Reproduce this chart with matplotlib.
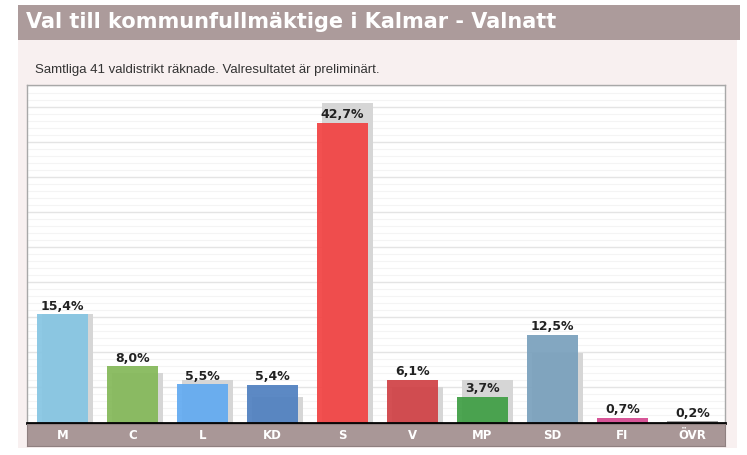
import matplotlib
matplotlib.use("Agg")
import matplotlib.pyplot as plt
from matplotlib.patches import Rectangle
from matplotlib.ticker import MultipleLocator

# ---- data ----
parties = ['M', 'C', 'L', 'KD', 'S', 'V', 'MP', 'SD', 'FI', 'ÖVR']
result = [15.4, 8.0, 5.5, 5.4, 42.7, 6.1, 3.7, 12.5, 0.7, 0.2]
previous = [15.5, 7.0, 6.0, 3.6, 45.5, 5.1, 6.0, 9.9, 0.0, 0.0]
labels = ['15,4%', '8,0%', '5,5%', '5,4%', '42,7%', '6,1%', '3,7%', '12,5%', '0,7%', '0,2%']
colors = ['#86c5e2', '#84b859', '#62aaf0', '#5080c0', '#f24343',
          '#d04246', '#3f9e45', '#7aa1bd', '#d4488f', '#9a9a9a']
title = 'Val till kommunfullmäktige i Kalmar - Valnatt'
subtitle = 'Samtliga 41 valdistrikt räknade. Valresultatet är preliminärt.'

W, H = 747, 455


def rect(x0, y0, x1, y1):
    return [x0 / W, 1 - y1 / H, (x1 - x0) / W, (y1 - y0) / H]


fig = plt.figure(figsize=(W / 100, H / 100), dpi=100)
fig.patch.set_facecolor('white')

# pink panel background
r = rect(18, 40, 737, 448)
fig.patches.append(Rectangle((r[0], r[1]), r[2], r[3], transform=fig.transFigure,
                             facecolor='#f8f0f0', edgecolor='none', zorder=-10))
# title bar
r = rect(18, 5, 740, 40)
fig.patches.append(Rectangle((r[0], r[1]), r[2], r[3], transform=fig.transFigure,
                             facecolor='#ac9b9b', edgecolor='none', zorder=-10))
fig.text(26 / W, 1 - 22 / H, title, color='white', fontsize=15, fontweight='bold',
         va='center', ha='left', family='DejaVu Sans')
fig.text(35 / W, 1 - 70 / H, subtitle, color='#333333', fontsize=9.5,
         va='center', ha='left', family='Liberation Sans')

# main axes
x = list(range(len(parties)))
xlim = (-(62.5 - 27) / 70, 9 + (725 - 692.5) / 70)
ax = fig.add_axes(rect(27, 85, 725, 422.5))
ax.set_facecolor('white')
ax.set_xlim(*xlim)
ax.set_ylim(0, (422.5 - 85) / 7.02)
ax.yaxis.set_major_locator(MultipleLocator(5))
ax.yaxis.set_minor_locator(MultipleLocator(1))
ax.grid(axis='y', which='major', color='#e4e4e4', lw=1)
ax.grid(axis='y', which='minor', color='#f4f4f4', lw=0.8)
ax.set_axisbelow(True)
ax.tick_params(left=False, bottom=False, which='both', labelleft=False, labelbottom=False)

w = 0.73
ax.bar([i + 0.075 for i in x], previous, width=w, color='#d6d6d6', zorder=2)
bars = ax.bar(x, result, width=w, color=colors, alpha=0.93, zorder=3)
for b, lab in zip(bars, labels):
    ax.annotate(lab, (b.get_x() + b.get_width() / 2, b.get_height()),
                xytext=(0, 1), textcoords='offset points', ha='center', va='bottom',
                fontsize=9, fontweight='bold', color='#222222', zorder=5)

for s in ['left', 'top', 'right']:
    ax.spines[s].set_color('#a8a8a8')
    ax.spines[s].set_linewidth(1)
ax.spines['bottom'].set_color('black')
ax.spines['bottom'].set_linewidth(2)
ax.spines['bottom'].set_zorder(6)

# category band
bx = fig.add_axes(rect(27, 423.5, 725, 446))
bx.set_facecolor('#a99797')
bx.set_xlim(*xlim)
bx.set_ylim(0, 1)
bx.set_yticks([])
bx.set_xticks([])
for s in bx.spines.values():
    s.set_color('#8f8080')
    s.set_linewidth(0.8)
for i, p in zip(x, parties):
    bx.text(i, 0.45, p, ha='center', va='center', color='white', fontsize=8.5,
            fontweight='bold')

fig.savefig('out.png', dpi=100)
